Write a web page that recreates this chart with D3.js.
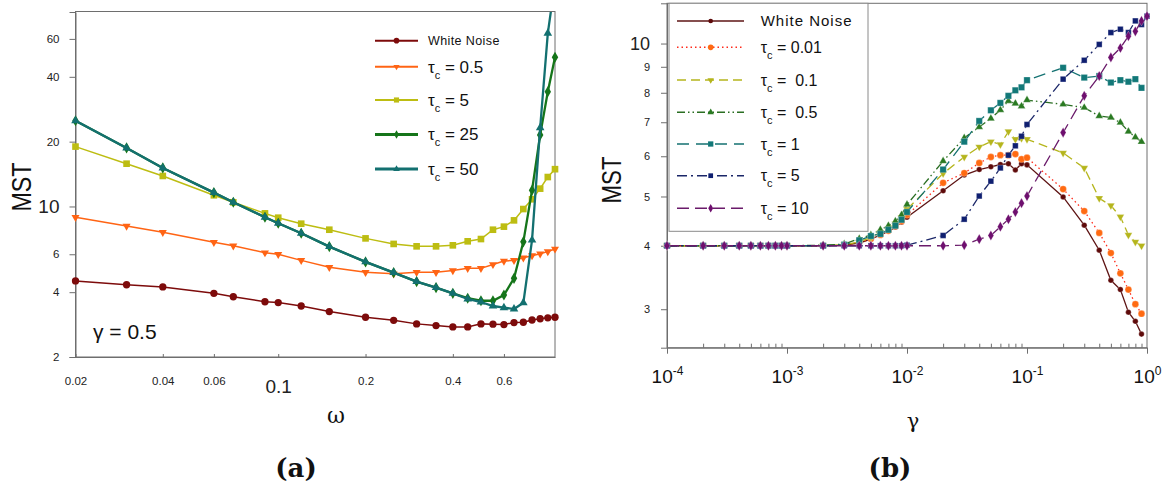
<!DOCTYPE html>
<html>
<head>
<meta charset="utf-8">
<title>MST versus omega and gamma</title>
<script src="https://cdn.jsdelivr.net/npm/d3@7"></script>
<style>
  body{ margin:0; background:#fff; font-family:"Liberation Sans", Arial, sans-serif; }
  text{ white-space: pre; }
</style>
</head>
<body>
<svg></svg>
<script>
// ---- data: panel (a), MST against omega, gamma = 0.5 ----
var omega = [0.02,0.03,0.04,0.06,0.07,0.09,0.1,0.12,0.15,0.2,0.25,0.3,0.35,0.4,0.45,0.5,0.55,0.6,0.65,0.7,0.75,0.8,0.85,0.9];
var whiteNoiseA = [4.51,4.33,4.23,3.95,3.81,3.61,3.58,3.45,3.25,3.06,2.96,2.85,2.80,2.76,2.76,2.85,2.84,2.83,2.89,2.90,2.97,3.01,3.04,3.06];
var tau05A = [8.91,8.11,7.59,6.82,6.57,6.10,6.00,5.62,5.22,4.95,4.87,4.95,4.95,5.04,5.16,5.16,5.38,5.58,5.62,5.78,5.91,6.03,6.17,6.35];
var tau5A  = [18.97,15.8,13.86,11.27,10.46,9.29,8.87,8.32,7.80,7.11,6.70,6.53,6.53,6.60,6.89,7.06,7.80,8.06,8.62,9.73,10.8,12.1,13.7,14.9];
var tau25A = [25.0,18.7,15.1,11.6,10.46,8.91,8.36,7.51,6.51,5.53,4.93,4.48,4.20,3.95,3.75,3.65,3.65,3.88,4.64,6.85,11.9,21.5,34.1,49.3];
var tau50A = [25.0,18.7,15.1,11.6,10.46,8.91,8.36,7.51,6.51,5.53,4.93,4.48,4.20,3.95,3.72,3.60,3.45,3.39,3.34,3.57,6.98,23.2,63.7,110];
var labelsA = ["White Noise","0.5","5","25","50"];
var yTicksA = [2,4,6,10,20,40,60];
var xTicksA = [0.02,0.04,0.06,0.1,0.2,0.4,0.6];

// ---- data: panel (b), MST against gamma ----
var gamma = [0.0001,0.0002,0.0003,0.0004,0.0005,0.0006,0.0007,0.0008,0.0009,
             0.001,0.002,0.003,0.004,0.005,0.006,0.007,0.008,0.009,
             0.01,0.02,0.03,0.04,0.05,0.06,0.07,0.08,0.09,
             0.1,0.2,0.3,0.4,0.5,0.6,0.7,0.8,0.9,1.0];
var whiteNoiseB = [4,4,4,4,4,4,4,4,4, 4,4.0,4.01,4.05,4.12,4.2,4.27,4.35,4.45, 4.55,5.13,5.51,5.65,5.72,5.78,5.80,5.64,5.80, 5.77,4.99,4.39,3.92,3.42,3.28,2.96,2.84,2.68];
var tau001B = [4,4,4,4,4,4,4,4,4, 4,4.0,4.01,4.06,4.13,4.2,4.28,4.37,4.47, 4.6,5.32,5.56,5.82,5.98,6.03,6.03,6.06,5.92, 5.96,5.17,4.68,4.24,3.87,3.53,3.28,3.07,2.94];
var tau01B  = [4,4,4,4,4,4,4,4,4, 4,4.0,4.02,4.07,4.15,4.25,4.33,4.42,4.55, 4.72,5.55,5.98,6.26,6.41,6.33,6.71,6.48,6.51, 6.48,6.09,5.69,4.96,4.8,4.56,4.2,4.07,4.0];
var tau05B  = [4,4,4,4,4,4,4,4,4, 4,4.01,4.03,4.13,4.2,4.3,4.38,4.47,4.6, 4.82,5.87,6.52,6.85,7.12,7.4,7.71,7.62,7.53, 7.74,7.59,7.48,7.2,7.15,6.99,6.71,6.54,6.41];
var tau1B   = [4,4,4,4,4,4,4,4,4, 4,4.0,4.02,4.1,4.18,4.22,4.3,4.38,4.5, 4.66,5.65,6.41,7.04,7.39,7.64,7.89,8.09,8.2, 8.47,8.96,8.57,8.63,8.38,8.47,8.41,8.51,8.18];
var tau5B   = [4,4,4,4,4,4,4,4,4, 4,4,4,4,4,4,4,4,4, 4.01,4.19,4.51,5.01,5.36,5.69,6.03,6.29,6.57, 6.93,8.51,9.27,9.96,10.51,10.67,10.51,11.08,10.9,11.32];
var tau10B  = [4,4,4,4,4,4,4,4,4, 4,4,4,4,4,4,4,4,4, 4,4,4.01,4.12,4.19,4.36,4.51,4.66,4.85, 5.01,6.68,7.89,8.63,9.39,9.80,10.34,10.57,11.08,11.32];
var labelsB = ["White Noise","0.01"," 0.1"," 0.5","1","5","10"];
var yTicksB = [3,4,5,6,7,8,9,10];
var xTicksB = [0.0001,0.001,0.01,0.1,1];
var xMinorB = [0.0002,0.0003,0.0004,0.0005,0.0006,0.0007,0.0008,0.0009,
               0.002,0.003,0.004,0.005,0.006,0.007,0.008,0.009,
               0.02,0.03,0.04,0.05,0.06,0.07,0.08,0.09,
               0.2,0.3,0.4,0.5,0.6,0.7,0.8,0.9];

var svg = d3.select("svg").attr("width", 1172).attr("height", 490);
var frameColor = "#6e6e6e";

function pairs(xs, ys){
  return ys.map(function(v, i){ return [xs[i], v]; });
}

// ================= panel (a) =================
var xA = d3.scaleLog().domain([0.02, 0.9]).range([75.5, 555]);
var yA = d3.scaleLog().domain([2, 80]).range([357, 12]);

var seriesA = [
  {name: labelsA[0], vals: whiteNoiseA, color: "#7d0b0b", width: 1.5, shape: d3.symbolCircle, size: 42, rot: 0},
  {name: labelsA[1], vals: tau05A, color: "#ff6414", width: 1.5, shape: d3.symbolTriangle, size: 28, rot: 180},
  {name: labelsA[2], vals: tau5A, color: "#bdbd12", width: 1.5, shape: d3.symbolSquare, size: 44, rot: 0},
  {name: labelsA[3], vals: tau25A, color: "#15751a", width: 2.3, shape: d3.symbolDiamond, size: 36, rot: 0},
  {name: labelsA[4], vals: tau50A, color: "#137070", width: 2.3, shape: d3.symbolTriangle, size: 32, rot: 0}
];

var gA = svg.append("g");
gA.append("clipPath").attr("id", "clipA").append("rect")
  .attr("x", 70).attr("y", 12).attr("width", 492).attr("height", 350);

gA.append("rect").attr("x", 75.5).attr("y", 11.5).attr("width", 555 - 75.5).attr("height", 357 - 11.5)
  .attr("fill", "none").attr("stroke", frameColor).attr("stroke-width", 1);

var axYA = gA.append("g").attr("transform", "translate(75.5,0)")
  .call(d3.axisLeft(yA).tickValues(yTicksA).tickFormat(d3.format("d")).tickSize(6).tickPadding(10));
axYA.selectAll("text").style("font-size", function(d){ return d === 10 ? "19px" : "11.5px"; })
  .style("font-family", "Liberation Sans, Arial, sans-serif").attr("fill", "#222");

var axXA = gA.append("g").attr("transform", "translate(0,357)")
  .call(d3.axisBottom(xA).tickValues(xTicksA).tickFormat(function(d){ return String(d); }).tickSizeInner(-3).tickSizeOuter(0).tickPadding(20));
axXA.selectAll("text")
  .style("font-size", function(d){ return d === 0.1 ? "19px" : "11.5px"; })
  .attr("y", function(d){ return d === 0.1 ? 23 : 20; })
  .style("font-family", "Liberation Sans, Arial, sans-serif").attr("fill", "#222");
[axYA, axXA].forEach(function(a){
  a.select(".domain").attr("stroke", frameColor);
  a.selectAll(".tick line").attr("stroke", frameColor);
});

var lineA = d3.line().x(function(d){ return xA(d[0]); }).y(function(d){ return yA(d[1]); });
var plotA = gA.append("g").attr("clip-path", "url(#clipA)");
seriesA.forEach(function(s){
  var pts = pairs(omega, s.vals);
  plotA.append("path").datum(pts).attr("d", lineA)
    .attr("fill", "none").attr("stroke", s.color).attr("stroke-width", s.width);
  plotA.selectAll(null).data(pts).enter().append("path")
    .attr("d", d3.symbol().type(s.shape).size(s.size))
    .attr("transform", function(d){ return "translate(" + xA(d[0]) + "," + yA(d[1]) + ") rotate(" + s.rot + ")"; })
    .attr("fill", s.color);
});

// legend (a)
var legRowsA = [40.7, 66.7, 100, 134.5, 169];
seriesA.forEach(function(s, i){
  var y = legRowsA[i];
  gA.append("line").attr("x1", 375).attr("x2", 418).attr("y1", y).attr("y2", y)
    .attr("stroke", s.color).attr("stroke-width", s.width + 0.6);
  gA.append("path").attr("d", d3.symbol().type(s.shape).size(s.size * 0.6))
    .attr("transform", "translate(396.5," + y + ") rotate(" + s.rot + ")").attr("fill", s.color);
  var t = gA.append("text").attr("x", 428).attr("y", y).attr("dy", "0.35em").attr("fill", "#111");
  if (i === 0) {
    t.style("font-size", "12.5px").style("letter-spacing", "0.4px").text(s.name);
  } else {
    t.style("font-size", "17px");
    t.append("tspan").text("τ");
    t.append("tspan").attr("dy", 6).style("font-size", "11px").text("c");
    t.append("tspan").attr("dy", -6).text(" = " + s.name);
  }
});

gA.append("text").attr("x", 93).attr("y", 339).style("font-size", "21px").attr("fill", "#111")
  .text("γ = 0.5");
gA.append("text").attr("transform", "translate(31,187) rotate(-90)").attr("text-anchor", "middle")
  .style("font-size", "27px").attr("textLength", 49).attr("lengthAdjust", "spacingAndGlyphs")
  .attr("fill", "#111").text("MST");
gA.append("text").attr("x", 336).attr("y", 423).attr("text-anchor", "middle")
  .style("font-family", "DejaVu Serif, serif").style("font-size", "22px").attr("fill", "#111").text("ω");
gA.append("text").attr("x", 296).attr("y", 477).attr("text-anchor", "middle")
  .style("font-family", "DejaVu Serif, serif").style("font-weight", "bold").style("font-size", "26px")
  .attr("fill", "#111").text("(a)");

// ================= panel (b) =================
var xB = d3.scaleLog().domain([0.0001, 1]).range([667, 1147]);
var yB = d3.scaleLog().domain([2.52, 12]).range([347.7, 3.3]);

var seriesB = [
  {name: labelsB[0], vals: whiteNoiseB, color: "#5e1414", mcolor: "#5e0a0a", dash: null, shape: d3.symbolCircle, size: 24, rot: 0},
  {name: labelsB[1], vals: tau001B, color: "#ff2a1a", mcolor: "#ff6a12", dash: "1.5,3", shape: d3.symbolCircle, size: 36, rot: 0},
  {name: labelsB[2], vals: tau01B, color: "#b5b51c", mcolor: "#b5b51c", dash: "9,5", shape: d3.symbolTriangle, size: 26, rot: 180},
  {name: labelsB[3], vals: tau05B, color: "#2a6e22", mcolor: "#2a7a22", dash: "8,3,1.5,3,1.5,3", shape: d3.symbolTriangle, size: 26, rot: 0},
  {name: labelsB[4], vals: tau1B, color: "#157272", mcolor: "#127878", dash: "12,7", shape: d3.symbolSquare, size: 40, rot: 0},
  {name: labelsB[5], vals: tau5B, color: "#1a2668", mcolor: "#0f1f70", dash: "10,4,2,4", shape: d3.symbolSquare, size: 32, rot: 0},
  {name: labelsB[6], vals: tau10B, color: "#6a1a6a", mcolor: "#6e0f6e", dash: "12,6", shape: d3.symbolDiamond, size: 30, rot: 0}
];

var gB = svg.append("g");
gB.append("rect").attr("x", 667).attr("y", 3.3).attr("width", 1147 - 667).attr("height", 347.7 - 3.3)
  .attr("fill", "none").attr("stroke", frameColor).attr("stroke-width", 1);

var axYB = gB.append("g").attr("transform", "translate(667,0)")
  .call(d3.axisLeft(yB).tickValues(yTicksB).tickFormat(d3.format("d")).tickSize(6).tickPadding(11));
axYB.selectAll("text").style("font-size", function(d){ return d === 10 ? "18px" : "11px"; })
  .style("font-family", "Liberation Sans, Arial, sans-serif").attr("fill", "#222");

var axXB = gB.append("g").attr("transform", "translate(0,347.7)")
  .call(d3.axisBottom(xB).tickValues(xTicksB).tickFormat("").tickSizeInner(6).tickSizeOuter(0));
axXB.selectAll(".tick text").each(function(d){
  var t = d3.select(this).attr("y", 35.5).attr("dy", 0)
    .style("font-size", "19px").style("font-family", "Liberation Sans, Arial, sans-serif").attr("fill", "#111");
  t.append("tspan").text("10");
  t.append("tspan").attr("dy", -8).style("font-size", "12px").text(String(Math.round(Math.log10(d))));
});
var axXBminor = gB.append("g").attr("transform", "translate(0,347.7)")
  .call(d3.axisBottom(xB).tickValues(xMinorB).tickFormat("").tickSizeInner(-4).tickSizeOuter(0));
axXBminor.select(".domain").remove();
[axYB, axXB].forEach(function(a){ a.select(".domain").attr("stroke", frameColor); });
[axYB, axXB, axXBminor].forEach(function(a){ a.selectAll(".tick line").attr("stroke", frameColor); });

var lineB = d3.line().x(function(d){ return xB(d[0]); }).y(function(d){ return yB(d[1]); });
var plotB = gB.append("g");
seriesB.forEach(function(s){
  var pts = pairs(gamma, s.vals);
  plotB.append("path").datum(pts).attr("d", lineB)
    .attr("fill", "none").attr("stroke", s.color).attr("stroke-width", 1.3)
    .attr("stroke-dasharray", s.dash);
  plotB.selectAll(null).data(pts).enter().append("path")
    .attr("d", d3.symbol().type(s.shape).size(s.size))
    .attr("transform", function(d){ return "translate(" + xB(d[0]) + "," + yB(d[1]) + ") rotate(" + s.rot + ")"; })
    .attr("fill", s.mcolor).attr("stroke", "rgba(255,255,255,0.45)").attr("stroke-width", 0.6);
});

// legend (b)
gB.append("rect").attr("x", 669).attr("y", 3.3).attr("width", 199).attr("height", 228)
  .attr("fill", "#fff").attr("stroke", "#8a8a8a").attr("stroke-width", 1);
var legRowsB = [21, 47.3, 80, 112.3, 144, 175.7, 208.3];
seriesB.forEach(function(s, i){
  var y = legRowsB[i];
  gB.append("line").attr("x1", 677).attr("x2", 744).attr("y1", y).attr("y2", y)
    .attr("stroke", s.color).attr("stroke-width", 1.4).attr("stroke-dasharray", s.dash);
  gB.append("path").attr("d", d3.symbol().type(s.shape).size(s.size * 0.7))
    .attr("transform", "translate(710.7," + y + ") rotate(" + s.rot + ")").attr("fill", s.mcolor);
  var t = gB.append("text").attr("x", 760.7).attr("y", y).attr("dy", "0.35em").attr("fill", "#111");
  if (i === 0) {
    t.style("font-size", "15px").style("letter-spacing", "1px").text(s.name);
  } else {
    t.style("font-size", "16px");
    t.append("tspan").text("τ");
    t.append("tspan").attr("dy", 6).style("font-size", "11px").text("c");
    t.append("tspan").attr("dy", -6).text(" = " + s.name);
  }
});

gB.append("text").attr("transform", "translate(621,180) rotate(-90)").attr("text-anchor", "middle")
  .style("font-size", "27px").attr("textLength", 47).attr("lengthAdjust", "spacingAndGlyphs")
  .attr("fill", "#111").text("MST");
gB.append("text").attr("x", 913).attr("y", 428).attr("text-anchor", "middle")
  .style("font-family", "DejaVu Serif, serif").style("font-size", "21px").attr("fill", "#111").text("γ");
gB.append("text").attr("x", 890).attr("y", 477).attr("text-anchor", "middle")
  .style("font-family", "DejaVu Serif, serif").style("font-weight", "bold").style("font-size", "26px")
  .attr("fill", "#111").text("(b)");
</script>
</body>
</html>
